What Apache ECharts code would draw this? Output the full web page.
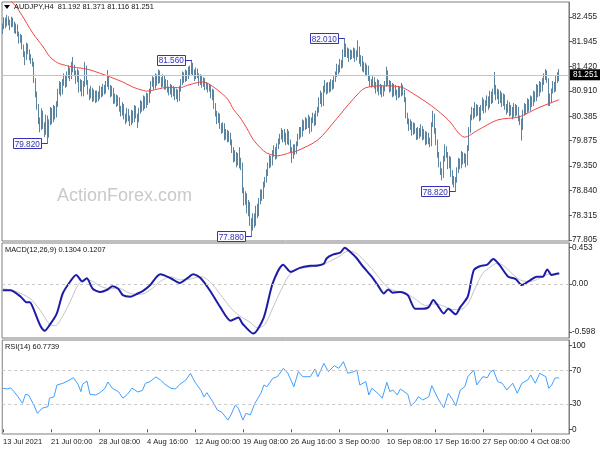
<!DOCTYPE html>
<html>
<head>
<meta charset="utf-8">
<script src="https://cdn.jsdelivr.net/npm/echarts@6/dist/echarts.min.js"></script>
<style>html,body{margin:0;padding:0;background:#fff;}#c{width:600px;height:450px;}</style>
</head>
<body>
<div id="c"></div>
<script>
// ---- data ----
const tickLabels = ['13 Jul 2021','21 Jul 00:00','28 Jul 08:00','4 Aug 16:00','12 Aug 00:00','19 Aug 08:00','26 Aug 16:00','3 Sep 00:00','10 Sep 08:00','17 Sep 16:00','27 Sep 00:00','4 Oct 08:00'];
const barsPerLabel = 32;
const priceTicks = [82.455, 81.945, 81.420, 80.910, 80.385, 79.875, 79.350, 78.840, 78.315, 77.805];
const macdTicks = [0.453, 0, -0.598];
const rsiTicks = [100, 70, 30, 0];
// [open, close, low, high] per H4 bar
const candles = [
[82.20,82.25,82.10,82.32],[82.25,82.38,82.20,82.45],[82.38,82.30,82.22,82.44],[82.30,82.42,82.26,82.50],[82.42,82.35,82.28,82.47],
[82.35,82.28,82.18,82.40],[82.28,82.40,82.24,82.46],[82.40,82.33,82.25,82.44],[82.33,82.20,82.12,82.36],[82.20,82.26,82.10,82.32],
[82.26,82.12,82.05,82.30],[82.12,81.98,81.90,82.15],[81.98,82.05,81.92,82.10],[82.05,81.85,81.78,82.08],[81.85,81.70,81.62,81.88],
[81.70,81.60,81.45,81.74],[81.60,81.88,81.56,81.92],[81.88,81.75,81.68,81.90],[81.75,81.62,81.55,81.78],[81.62,81.55,81.48,81.68],
[81.55,81.50,81.42,81.60],[81.50,81.15,81.08,81.52],[81.15,80.85,80.78,81.18],[80.85,80.60,80.52,80.90],[80.60,80.30,80.22,80.64],
[80.30,80.15,80.05,80.36],[80.15,80.45,80.10,80.55],[80.45,80.20,80.12,80.50],[80.20,80.05,79.95,80.26],[80.05,80.35,80.00,80.42],
[80.35,80.00,79.82,80.40],[80.00,80.25,79.94,80.32],[80.25,80.50,80.20,80.58],[80.50,80.30,80.22,80.56],[80.30,80.55,80.26,80.62],
[80.55,80.40,80.32,80.60],[80.40,80.62,80.36,80.70],[80.62,80.90,80.58,80.96],[80.90,81.05,80.84,81.12],[81.05,80.88,80.80,81.10],
[80.88,81.10,80.84,81.16],[81.10,81.20,81.02,81.28],[81.20,81.05,80.98,81.24],[81.05,81.25,81.00,81.32],[81.25,81.35,81.18,81.44],
[81.35,81.20,81.12,81.40],[81.20,81.45,81.16,81.52],[81.45,81.40,81.30,81.62],[81.40,81.30,81.22,81.46],[81.30,81.15,81.06,81.34],
[81.15,81.30,81.10,81.38],[81.30,80.95,80.88,81.34],[80.95,81.10,80.90,81.16],[81.10,80.85,80.80,81.14],[80.85,81.05,80.80,81.12],
[81.05,81.40,81.00,81.52],[81.40,81.10,81.04,81.44],[81.10,80.90,80.84,81.14],[80.90,80.80,80.72,80.96],[80.80,80.95,80.76,81.02],
[80.95,80.75,80.68,80.98],[80.75,80.88,80.70,80.94],[80.88,80.72,80.66,80.92],[80.72,80.85,80.68,80.92],[80.85,80.78,80.70,80.90],
[80.78,80.95,80.74,81.02],[80.95,80.85,80.78,81.00],[80.85,81.00,80.80,81.06],[81.00,80.90,80.84,81.04],[80.90,81.05,80.86,81.12],
[81.05,81.20,81.00,81.35],[81.20,81.00,80.94,81.24],[81.00,80.85,80.78,81.04],[80.85,80.95,80.80,81.02],[80.95,80.70,80.64,80.98],
[80.70,80.80,80.65,80.86],[80.80,80.65,80.58,80.84],[80.65,80.75,80.60,80.82],[80.75,80.55,80.48,80.78],[80.55,80.45,80.38,80.60],
[80.45,80.60,80.40,80.68],[80.60,80.40,80.32,80.64],[80.40,80.30,80.22,80.44],[80.30,80.50,80.26,80.56],[80.50,80.35,80.28,80.54],
[80.35,80.25,80.18,80.40],[80.25,80.45,80.20,80.52],[80.45,80.30,80.24,80.50],[80.30,80.55,80.26,80.62],[80.55,80.40,80.34,80.60],
[80.40,80.30,80.14,80.44],[80.30,80.50,80.26,80.56],[80.50,80.65,80.44,80.72],[80.65,80.55,80.48,80.70],[80.55,80.75,80.50,80.82],
[80.75,80.60,80.54,80.80],[80.60,80.80,80.56,80.88],[80.80,80.70,80.62,80.86],[80.70,80.90,80.66,80.96],[80.90,81.05,80.86,81.12],
[81.05,81.15,81.00,81.22],[81.15,81.00,80.94,81.20],[81.00,81.20,80.96,81.28],[81.20,81.10,81.02,81.26],[81.10,81.30,81.06,81.36],
[81.30,81.15,81.08,81.34],[81.15,81.05,80.98,81.20],[81.05,81.20,81.00,81.26],[81.20,81.00,80.94,81.24],[81.00,81.10,80.94,81.16],
[81.10,80.95,80.88,81.14],[80.95,80.90,80.82,81.00],[80.90,81.00,80.84,81.06],[81.00,80.85,80.78,81.04],[80.85,80.95,80.80,81.02],
[80.95,80.80,80.72,80.98],[80.80,80.90,80.74,80.96],[80.90,80.75,80.68,80.94],[80.75,80.95,80.70,81.02],[80.95,81.10,80.90,81.16],
[81.10,81.25,81.04,81.32],[81.25,81.15,81.08,81.30],[81.15,81.30,81.10,81.36],[81.30,81.20,81.12,81.34],[81.20,81.35,81.16,81.42],
[81.35,81.30,81.22,81.44],[81.30,81.45,81.26,81.56],[81.45,81.30,81.24,81.50],[81.30,81.20,81.12,81.36],[81.20,81.35,81.16,81.40],
[81.35,81.25,81.18,81.38],[81.25,81.10,81.02,81.28],[81.10,81.20,81.04,81.26],[81.20,81.05,80.98,81.24],[81.05,81.15,81.00,81.20],
[81.15,81.00,80.93,81.18],[81.00,81.05,80.94,81.10],[81.05,80.95,80.88,81.08],[80.95,81.00,80.90,81.06],[81.00,80.85,80.76,81.04],
[80.85,80.90,80.72,80.96],[80.90,80.60,80.54,80.94],[80.60,80.45,80.38,80.66],[80.45,80.30,80.22,80.50],[80.30,80.40,80.24,80.46],
[80.40,80.20,80.12,80.44],[80.20,80.10,80.02,80.24],[80.10,80.20,80.04,80.26],[80.20,79.95,79.88,80.24],[79.95,80.05,79.90,80.12],
[80.05,79.90,79.84,80.10],[79.90,80.00,79.85,80.08],[80.00,79.85,79.78,80.04],[79.85,79.70,79.62,79.90],[79.70,79.50,79.42,79.74],
[79.50,79.60,79.44,79.68],[79.60,79.40,79.32,79.64],[79.40,79.55,79.36,79.62],[79.55,79.45,79.30,79.74],[79.45,79.40,79.26,79.52],
[79.40,78.85,78.78,79.42],[78.85,78.60,78.52,78.90],[78.60,78.75,78.54,78.82],[78.75,78.45,78.36,78.78],[78.45,78.55,78.30,78.64],
[78.55,78.20,78.10,78.60],[78.20,78.05,77.88,78.26],[78.05,78.30,78.00,78.36],[78.30,78.15,78.06,78.36],[78.15,78.45,78.10,78.52],
[78.45,78.35,78.26,78.56],[78.35,78.60,78.30,78.68],[78.60,78.80,78.55,78.86],[78.80,78.70,78.62,78.86],[78.70,78.95,78.66,79.02],
[78.95,79.05,78.90,79.12],[79.05,79.20,79.00,79.28],[79.20,79.35,79.14,79.42],[79.35,79.50,79.30,79.58],[79.50,79.40,79.32,79.56],
[79.40,79.60,79.36,79.68],[79.60,79.70,79.54,79.78],[79.70,79.55,79.48,79.74],[79.55,79.75,79.50,79.82],[79.75,79.85,79.70,79.92],
[79.85,79.95,79.80,80.02],[79.95,80.05,79.90,80.14],[80.05,79.90,79.84,80.10],[79.90,80.00,79.85,80.12],[80.00,79.85,79.78,80.04],
[79.85,80.05,79.80,80.12],[80.05,79.85,79.78,80.08],[79.85,79.70,79.62,79.90],[79.70,79.55,79.41,79.74],[79.55,79.75,79.50,79.80],
[79.75,79.65,79.58,79.80],[79.65,79.80,79.60,79.86],[79.80,79.95,79.76,80.02],[79.95,80.10,79.90,80.16],[80.10,80.00,79.94,80.16],
[80.00,80.25,79.96,80.32],[80.25,80.15,80.08,80.30],[80.15,80.30,80.10,80.37],[80.30,80.20,80.12,80.34],[80.20,80.35,80.14,80.42],
[80.35,80.10,80.02,80.38],[80.10,80.30,80.06,80.36],[80.30,80.40,80.24,80.46],[80.40,80.25,80.18,80.44],[80.25,80.45,80.20,80.50],
[80.45,80.50,80.38,80.58],[80.50,80.70,80.46,80.78],[80.70,80.85,80.64,80.92],[80.85,80.65,80.58,80.88],[80.65,80.95,80.60,81.02],
[80.95,81.05,80.88,81.14],[81.05,80.90,80.84,81.08],[80.90,81.05,80.86,81.10],[81.05,80.95,80.88,81.10],[80.95,81.10,80.90,81.16],
[81.10,81.00,80.94,81.14],[81.00,81.15,80.96,81.22],[81.15,81.25,81.10,81.32],[81.25,81.40,81.20,81.48],[81.40,81.35,81.26,81.46],
[81.35,81.50,81.30,81.58],[81.50,81.45,81.38,81.56],[81.45,81.70,81.40,81.78],[81.70,81.85,81.62,82.01],[81.85,81.70,81.62,81.90],
[81.70,81.75,81.60,81.82],[81.75,81.60,81.52,81.80],[81.60,81.72,81.56,81.78],[81.72,81.65,81.58,81.76],[81.65,81.75,81.60,81.82],
[81.75,81.60,81.52,81.80],[81.60,81.70,81.55,81.76],[81.70,81.80,81.62,81.97],[81.80,81.55,81.48,81.84],[81.55,81.60,81.42,81.66],
[81.60,81.40,81.32,81.64],[81.40,81.45,81.30,81.52],[81.45,81.30,81.22,81.50],[81.30,81.40,81.24,81.46],[81.40,81.20,81.12,81.44],
[81.20,81.10,81.00,81.24],[81.10,81.05,80.98,81.16],[81.05,81.15,81.00,81.22],[81.15,81.05,80.96,81.20],[81.05,80.95,80.86,81.10],
[80.95,81.10,80.90,81.16],[81.10,80.90,80.82,81.14],[80.90,81.00,80.84,81.06],[81.00,80.85,80.78,81.04],[80.85,80.95,80.80,81.02],
[80.95,81.05,80.90,81.12],[81.05,81.30,81.00,81.42],[81.30,81.10,81.02,81.34],[81.10,80.95,80.88,81.14],[80.95,81.05,80.90,81.12],
[81.05,80.85,80.78,81.08],[80.85,81.00,80.80,81.06],[81.00,80.90,80.82,81.04],[80.90,80.80,80.72,80.94],[80.80,80.95,80.76,81.02],
[80.95,80.85,80.78,81.00],[80.85,81.00,80.80,81.08],[81.00,80.90,80.82,81.04],[80.90,80.75,80.68,80.94],[80.75,80.40,80.34,80.78],
[80.40,80.30,80.22,80.46],[80.30,80.15,80.08,80.34],[80.15,80.25,80.10,80.32],[80.25,80.05,79.98,80.28],[80.05,80.20,80.00,80.26],
[80.20,80.10,80.02,80.24],[80.10,79.95,79.89,80.14],[79.95,80.10,79.90,80.16],[80.10,80.00,79.92,80.14],[80.00,80.15,79.96,80.22],
[80.15,79.95,79.88,80.18],[79.95,80.05,79.90,80.12],[80.05,79.85,79.78,80.08],[79.85,80.00,79.80,80.06],[80.00,79.90,79.80,80.04],
[79.90,79.80,79.74,79.94],[79.80,80.20,79.76,80.26],[80.20,80.40,80.16,80.50],[80.40,80.10,80.02,80.44],[80.10,79.85,79.78,80.14],
[79.85,79.60,79.52,79.90],[79.60,79.40,79.32,79.64],[79.40,79.25,79.16,79.44],[79.25,79.15,79.05,79.30],[79.15,79.50,79.10,79.56],
[79.50,79.70,79.44,79.80],[79.70,79.60,79.52,79.76],[79.60,79.35,79.28,79.64],[79.35,79.50,79.30,79.56],[79.50,79.20,79.12,79.54],
[79.20,79.10,78.96,79.26],[79.10,79.00,78.90,79.14],[79.00,79.05,78.82,79.12],[79.05,79.25,79.00,79.32],[79.25,79.45,79.20,79.52],
[79.45,79.35,79.28,79.50],[79.35,79.60,79.30,79.66],[79.60,79.45,79.38,79.64],[79.45,79.55,79.40,79.62],[79.55,79.40,79.32,79.60],
[79.40,79.70,79.36,79.78],[79.70,80.10,79.66,80.16],[80.10,80.35,80.04,80.42],[80.35,80.50,80.30,80.58],[80.50,80.40,80.32,80.56],
[80.40,80.60,80.36,80.68],[80.60,80.45,80.38,80.64],[80.45,80.55,80.40,80.62],[80.55,80.35,80.28,80.58],[80.35,80.55,80.30,80.62],
[80.55,80.70,80.50,80.78],[80.70,80.50,80.44,80.74],[80.50,80.65,80.46,80.72],[80.65,80.75,80.60,80.82],[80.75,80.60,80.52,80.80],
[80.60,80.85,80.56,80.92],[80.85,80.70,80.64,80.90],[80.70,80.90,80.66,80.96],[80.90,81.00,80.84,81.31],[81.00,80.80,80.72,81.04],
[80.80,80.90,80.74,80.96],[80.90,80.70,80.64,80.94],[80.70,80.85,80.66,80.92],[80.85,80.65,80.58,80.88],[80.65,80.80,80.60,80.86],
[80.80,80.60,80.52,80.84],[80.60,80.50,80.42,80.64],[80.50,80.65,80.46,80.72],[80.65,80.45,80.38,80.68],[80.45,80.55,80.40,80.62],
[80.55,80.40,80.32,80.58],[80.40,80.60,80.36,80.66],[80.60,80.45,80.38,80.64],[80.45,80.55,80.40,80.62],[80.55,80.35,80.28,80.58],
[80.35,80.30,80.20,80.40],[80.30,80.15,79.88,80.34],[80.15,80.45,80.10,80.52],[80.45,80.60,80.40,80.66],[80.60,80.50,80.42,80.64],
[80.50,80.70,80.46,80.76],[80.70,80.55,80.48,80.74],[80.55,80.75,80.50,80.82],[80.75,80.65,80.58,80.80],[80.65,80.85,80.60,80.92],
[80.85,80.75,80.68,80.90],[80.75,81.00,80.70,81.06],[81.00,80.85,80.78,81.04],[80.85,81.05,80.80,81.12],[81.05,80.95,80.88,81.10],
[80.95,81.10,80.90,81.18],[81.10,81.20,81.04,81.28],[81.20,81.30,81.14,81.37],[81.30,81.15,81.08,81.34],[81.15,80.80,80.60,81.18],
[80.80,80.70,80.60,80.86],[80.70,80.90,80.66,80.96],[80.90,81.05,80.86,81.12],[81.05,80.95,80.88,81.10],[80.95,81.15,80.90,81.22],
[81.15,81.192,81.08,81.30],[81.192,81.251,81.116,81.371]
];
// moving average [bar, value]
const maLine = [[0,82.92],[7,82.74],[12,82.53],[20,82.12],[27,81.83],[31,81.64],[35,81.53],[38,81.48],[47,81.41],[56,81.37],[65,81.28],[72,81.20],[80,81.10],[87,80.99],[94,80.92],[96,80.91],[103,80.95],[110,80.99],[118,80.98],[123,81.03],[130,81.09],[132,81.10],[136,81.08],[143,80.94],[150,80.74],[154,80.52],[158,80.37],[163,80.12],[167,79.90],[172,79.72],[176,79.62],[183,79.56],[192,79.63],[196,79.66],[210,79.89],[222,80.31],[233,80.72],[242,80.98],[255,81.02],[266,80.99],[273,80.87],[286,80.60],[297,80.31],[308,79.95],[317,80.10],[330,80.31],[344,80.37],[357,80.56],[370,80.72],[371,80.73]];
// MACD main [bar, value]
const macdLine = [[0,-0.08],[5,-0.08],[12,-0.16],[16,-0.23],[18,-0.23],[20,-0.29],[25,-0.52],[28,-0.585],[31,-0.52],[36,-0.37],[40,-0.12],[45,0.03],[49,0.11],[53,0.03],[56,0.07],[60,-0.06],[65,-0.10],[70,-0.07],[73,-0.03],[77,-0.06],[80,-0.14],[85,-0.16],[90,-0.12],[94,-0.08],[98,-0.02],[105,0.12],[112,0.07],[118,0.01],[123,0.07],[127,0.12],[132,0.07],[138,-0.08],[145,-0.29],[152,-0.46],[157,-0.42],[160,-0.50],[167,-0.62],[174,-0.42],[180,0.01],[187,0.24],[192,0.15],[198,0.20],[205,0.225],[210,0.23],[214,0.25],[216,0.32],[220,0.365],[225,0.39],[228,0.45],[231,0.41],[236,0.32],[240,0.22],[246,0.09],[250,-0.015],[254,-0.12],[257,-0.07],[260,-0.11],[265,-0.10],[270,-0.14],[275,-0.31],[280,-0.31],[284,-0.29],[287,-0.20],[290,-0.27],[294,-0.37],[297,-0.31],[302,-0.38],[305,-0.29],[310,-0.16],[314,0.17],[318,0.22],[323,0.24],[327,0.31],[331,0.24],[337,0.09],[342,0.06],[346,-0.015],[352,0.05],[356,0.09],[360,0.09],[363,0.18],[366,0.11],[370,0.13],[371,0.1304]];
// MACD signal [bar, value]
const signalLine = [[0,-0.06],[8,-0.09],[18,-0.18],[25,-0.33],[31,-0.50],[35,-0.52],[40,-0.40],[45,-0.22],[50,-0.02],[55,0.06],[60,0.03],[65,-0.03],[72,-0.06],[78,-0.06],[85,-0.12],[92,-0.13],[98,-0.08],[105,0.03],[112,0.09],[118,0.05],[125,0.06],[132,0.09],[138,0.03],[145,-0.13],[152,-0.30],[158,-0.40],[165,-0.48],[170,-0.55],[175,-0.50],[180,-0.30],[187,-0.02],[192,0.13],[198,0.19],[205,0.21],[212,0.23],[218,0.28],[225,0.35],[230,0.41],[235,0.39],[240,0.31],[246,0.19],[252,0.05],[257,-0.05],[262,-0.09],[268,-0.11],[275,-0.19],[282,-0.27],[287,-0.25],[293,-0.27],[300,-0.32],[305,-0.32],[310,-0.25],[315,-0.05],[320,0.13],[325,0.21],[330,0.26],[335,0.21],[340,0.12],[346,0.04],[352,0.03],[358,0.07],[364,0.12],[370,0.12],[371,0.1207]];
// RSI(14) [bar, value]
const rsiLine = [[0,48.8],[3,48],[5,49.5],[7,45.6],[10,38.8],[13,31],[15,41.7],[17,40.8],[20,31],[23,19],[26,25],[30,27],[31,37],[34,38.8],[36,52.7],[40,54.8],[43,57.5],[47,61.4],[50,53.6],[52,44.8],[53,53.6],[56,57.5],[58,41.7],[62,40.8],[65,44],[68,48.8],[70,56.3],[73,48.8],[77,44.8],[80,37],[83,41.7],[86,49],[90,44.4],[93,46.4],[95,54.8],[98,56.7],[102,62.3],[105,58.7],[108,53.6],[112,48.8],[115,48],[118,53.6],[122,58.7],[125,66.7],[128,56.3],[132,46.4],[134,38.5],[136,43.6],[140,32.5],[143,23],[146,20.2],[150,11],[152,17],[155,29],[157,25],[160,11],[162,19],[165,17],[168,31],[172,42.9],[174,52.7],[176,50.7],[180,60.7],[183,62.6],[187,72.6],[190,66.7],[194,50.7],[197,68.6],[198,70.6],[200,62.6],[205,62.6],[208,71.8],[210,62.6],[214,78.6],[217,68.6],[221,75.7],[224,72.6],[227,80.5],[230,66.7],[234,68.6],[236,70.6],[238,52.7],[242,56.7],[244,40.8],[246,48.8],[250,42.9],[253,37],[256,56],[258,44.8],[260,46.8],[263,40.8],[265,48],[270,41.7],[272,28],[275,32.9],[277,38.8],[280,34.9],[284,38.8],[286,51.9],[290,37],[292,31],[294,25.7],[297,42.9],[300,34.9],[302,28],[305,46.8],[308,50.7],[310,62.6],[314,70.6],[316,52.7],[320,62.6],[323,61.4],[325,67.9],[327,70.6],[330,56.7],[333,54.8],[336,46.8],[340,54.8],[343,42.9],[346,54.8],[350,58.7],[352,64.6],[355,54.8],[358,66.7],[362,62.6],[364,48.8],[366,52.7],[368,60.7],[370,61.4],[371,60.7739]];
// swing annotations [bar, price]
const swingLabels = [[30,79.820],[126,81.560],[166,77.880],[228,82.010],[302,78.820]];
const rsiLevels = [70, 30];
const headerText = 'AUDJPY,H4  81.192 81.371 81.116 81.251';
const macdText = 'MACD(12,26,9) 0.1304 0.1207';
const rsiText = 'RSI(14) 60.7739';

// ---- chart ----
const totalSlots = 378;
const categories = [];
for (let i = 0; i < totalSlots; i++) categories.push(String(i));
const lastClose = candles[candles.length - 1][1];
const FONT = 'Liberation Sans';
const SMALL = 7.4;
const axisCol = '#222';
const gridBase = {left: 2, width: 567, show: true, borderColor: '#7f7f7f', borderWidth: 1, backgroundColor: 'transparent'};

const chart = echarts.init(document.getElementById('c'), null, {renderer: 'canvas'});
const showTick = (idx) => idx % barsPerLabel === 0 && idx / barsPerLabel < tickLabels.length;
const xBase = (gi, showLabels) => ({
  type: 'category', gridIndex: gi, data: categories, boundaryGap: true,
  axisLine: {show: false},
  axisTick: {show: showLabels, alignWithLabel: true, length: 3, inside: false, lineStyle: {color: '#555'}, interval: showTick},
  axisLabel: {show: showLabels, align: 'left', margin: 4, fontFamily: FONT, fontSize: 7.6, color: axisCol,
    interval: showTick, hideOverlap: false, showMaxLabel: true,
    formatter: (v, idx) => tickLabels[idx / barsPerLabel] || ''},
  splitLine: {show: false}
});
const yBase = (gi, min, max, ticks, fmt) => ({
  type: 'value', gridIndex: gi, position: 'right', min: min, max: max, scale: true,
  axisLine: {show: true, lineStyle: {color: '#7f7f7f'}},
  axisTick: {show: true, length: 3, customValues: ticks, lineStyle: {color: '#555'}},
  axisLabel: {show: true, margin: 3, fontFamily: FONT, fontSize: 8.2, color: axisCol, customValues: ticks, formatter: fmt},
  splitLine: {show: false}
});

const option = {
  animation: false,
  backgroundColor: '#ffffff',
  grid: [
    Object.assign({top: 2, height: 239}, gridBase),
    Object.assign({top: 243, height: 95}, gridBase),
    Object.assign({top: 340, height: 94}, gridBase)
  ],
  xAxis: [xBase(0, false), xBase(1, false), xBase(2, true)],
  yAxis: [
    yBase(0, 77.784, 82.768, priceTicks, (v) => v.toFixed(3)),
    yBase(1, -0.675, 0.51, macdTicks, (v) => v === 0 ? '0.00' : v.toFixed(3)),
    yBase(2, -5.6, 106.3, rsiTicks, (v) => String(Math.round(v)))
  ],
  graphic: [
    {type: 'text', left: 57, top: 187, z: 0, style: {text: 'ActionForex.com', fill: '#c9c9c9', font: '18px "Liberation Sans"'}},
    {type: 'polygon', z: 10, shape: {points: [[4, 5], [10, 5], [7, 9]]}, style: {fill: '#000'}},
    {type: 'text', left: 14, top: 3, z: 10, style: {text: headerText, fill: '#111', font: SMALL + 'px "Liberation Sans"'}},
    {type: 'text', left: 5, top: 246, z: 10, style: {text: macdText, fill: '#111', font: SMALL + 'px "Liberation Sans"'}},
    {type: 'text', left: 5, top: 343, z: 10, style: {text: rsiText, fill: '#111', font: SMALL + 'px "Liberation Sans"'}}
  ],
  series: [
    {
      type: 'candlestick', xAxisIndex: 0, yAxisIndex: 0, data: candles, barWidth: 1,
      itemStyle: {color: '#8db0c9', color0: '#8db0c9', borderColor: '#5b84a0', borderColor0: '#5b84a0', borderWidth: 1},
      markLine: {
        silent: true, symbol: 'none', animation: false,
        lineStyle: {color: '#c4c4c4', type: 'solid', width: 1},
        label: {show: true, position: 'end', distance: 1, formatter: () => lastClose.toFixed(3),
          backgroundColor: '#000', color: '#fff', fontFamily: FONT, fontSize: 8.2, padding: [2, 3, 1, 3]},
        data: [{yAxis: lastClose}]
      },
      z: 3
    },
    {
      type: 'line', xAxisIndex: 0, yAxisIndex: 0, data: maLine, showSymbol: false, smooth: 0.3,
      lineStyle: {color: '#f24444', width: 1}, z: 4
    },
    {
      type: 'custom', xAxisIndex: 0, yAxisIndex: 0, data: swingLabels, z: 6, clip: false,
      encode: {x: 0, y: 1},
      renderItem: (params, api) => {
        const p = api.coord([api.value(0), api.value(1)]);
        const w = 28, h = 10, gap = 7;
        const c = '#3434b4';
        return {type: 'group', children: [
          {type: 'line', shape: {x1: p[0] - gap, y1: Math.round(p[1]) + 0.5, x2: p[0], y2: Math.round(p[1]) + 0.5}, style: {stroke: c, lineWidth: 1}},
          {type: 'rect', shape: {x: Math.round(p[0] - gap - w) + 0.5, y: Math.round(p[1] - h / 2) + 0.5, width: w, height: h}, style: {fill: '#fbfbff', stroke: c, lineWidth: 1}},
          {type: 'text', style: {x: p[0] - gap - w / 2 + 0.5, y: p[1] + 1, text: api.value(1).toFixed(3), align: 'center', verticalAlign: 'middle', fill: c, font: '8.2px "Liberation Sans"'}}
        ]};
      }
    },
    {
      type: 'line', xAxisIndex: 1, yAxisIndex: 1, data: signalLine, showSymbol: false, smooth: 0.3,
      lineStyle: {color: '#c4c4c4', width: 1}, z: 3,
      markLine: {silent: true, symbol: 'none', label: {show: false},
        lineStyle: {color: '#c8c8c8', type: [3, 3], width: 1}, data: [{yAxis: 0}]}
    },
    {
      type: 'line', xAxisIndex: 1, yAxisIndex: 1, data: macdLine, showSymbol: false, smooth: 0.25,
      lineStyle: {color: '#1c1ca8', width: 2}, z: 4
    },
    {
      type: 'line', xAxisIndex: 2, yAxisIndex: 2, data: rsiLine, showSymbol: false,
      lineStyle: {color: '#41a0ff', width: 1}, z: 4,
      markLine: {silent: true, symbol: 'none', label: {show: false},
        lineStyle: {color: '#c8c8c8', type: [3, 3], width: 1}, data: rsiLevels.map(v => ({yAxis: v}))}
    }
  ]
};
chart.setOption(option);
</script>
</body>
</html>
